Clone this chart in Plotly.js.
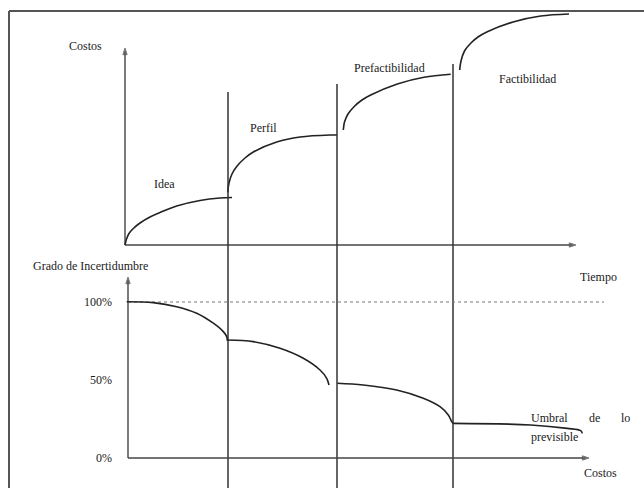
<!DOCTYPE html>
<html>
<head>
<meta charset="utf-8">
<script src="https://cdn.plot.ly/plotly-3.0.1.min.js"></script>
<style>
  html, body { margin: 0; padding: 0; background: #fff; }
  #chart { width: 644px; height: 488px; }
</style>
</head>
<body>
<div id="chart"></div>
<script>
// Etapas del proyecto (tiempo) y curvas de costos / incertidumbre
const stages = ['Idea', 'Perfil', 'Prefactibilidad', 'Factibilidad'];

// Costos por etapa (tiempo, costo)
const ideaT = [0, 1.5, 4, 8.3, 15, 25, 35, 51.7, 75, 95, 107];
const ideaC = [0, 6, 11.5, 16.5, 22, 28, 32.5, 39, 44.5, 47, 47.5];
const perfilT = [102.7, 104, 107, 111.7, 120, 128.3, 151.7, 175, 205, 212];
const perfilC = [52.7, 62, 71, 78.5, 87, 93, 103, 108, 110, 110];
const prefT = [218.3, 219.5, 223, 229, 237, 245.7, 272.3, 299, 325.7];
const prefC = [115, 123, 131, 138.3, 145, 150, 161, 167.7, 170.7];
const factT = [334.7, 336, 339.5, 345.7, 353, 362.3, 389, 415.7, 444];
const factC = [175, 184, 194, 201.7, 208, 213.3, 223.3, 229, 231];

// Grado de incertidumbre (%) por etapa
const inc1T = [1.7, 28.3, 51.7, 71.7, 88.3, 98.3, 101.7, 102.3];
const inc1U = [100.2, 99.6, 97.0, 92.8, 86.4, 81.0, 77.8, 75.2];
const inc2T = [102.3, 128.3, 155, 178.3, 195, 201.7, 204];
const inc2U = [75.6, 74.6, 70.3, 63.9, 56.4, 51.1, 46.8];
const inc3T = [212.3, 238.3, 271.7, 298.3, 315, 323.3, 326.7, 328.3];
const inc3U = [47.9, 46.8, 43.6, 38.3, 32.9, 27.6, 23.3, 22.2];
const inc4T = [328.3, 405.7, 442.3, 455.7, 457.3];
const inc4U = [22.2, 21.2, 19.0, 17.5, 15.8];

// Limites entre etapas (tiempo) y altura superior de cada linea (costo)
const boundT = [103, 212, 328];
const boundTop = [153, 161, 181];

// Ticks del eje de incertidumbre
const uncTicks = [0, 50, 100];
const uncTickText = ['0%', '50%', '100%'];

const ink = '#222';
const font = { family: "'Liberation Serif', serif", size: 12, color: '#1a1a1a' };

function curve(x, y, yaxis) {
    return { x: x, y: y, yaxis: yaxis, type: 'scatter', mode: 'lines',
             line: { color: ink, width: 1.6, shape: 'spline', smoothing: 1 },
             hoverinfo: 'skip', showlegend: false };
}
function arrowLine(x, y, yaxis) {
    return { x: x, y: y, yaxis: yaxis, type: 'scatter', mode: 'lines+markers',
             line: { color: '#444', width: 1.4 },
             marker: { symbol: 'arrow', angleref: 'previous', size: [0, 7], color: '#222' },
             hoverinfo: 'skip', showlegend: false };
}

const traces = [
    // ejes de costos y tiempo
    arrowLine([0, 0], [0, 197], 'y'),
    arrowLine([0, 451], [0, 0], 'y'),
    // ejes de incertidumbre
    arrowLine([3, 3], [0, 116], 'y2'),
    arrowLine([3, 464], [0, 0], 'y2'),
    // linea punteada 100%
    { x: [3, 479], y: [100, 100], yaxis: 'y2', type: 'scatter', mode: 'lines',
      line: { color: '#777', width: 1, dash: 'dot' }, hoverinfo: 'skip', showlegend: false },
    curve(ideaT, ideaC, 'y'),
    curve(perfilT, perfilC, 'y'),
    curve(prefT, prefC, 'y'),
    curve(factT, factC, 'y'),
    curve(inc1T, inc1U, 'y2'),
    curve(inc2T, inc2U, 'y2'),
    curve(inc3T, inc3U, 'y2'),
    curve(inc4T, inc4U, 'y2')
];

// lineas verticales entre etapas
boundT.forEach((t, i) => {
    traces.push({ x: [t, t], y: [boundTop[i], -260], yaxis: 'y', type: 'scatter', mode: 'lines',
                  line: { color: '#333', width: 1.5 }, hoverinfo: 'skip', showlegend: false });
});

function label(text, x, y, yref, xanchor) {
    return { text: text, x: x, y: y, xref: 'x', yref: yref, showarrow: false,
             xanchor: xanchor || 'center', yanchor: 'middle', font: font };
}

const stageLabelT = [39, 138, 264, 402];
const stageLabelC = [61, 117, 177, 166];

const annotations = stages.map((s, i) => label(s, stageLabelT[i], stageLabelC[i], 'y'));
annotations.push(
    label('Costos', -40, 199, 'y'),
    label('Tiempo', 473, -32, 'y'),
    label('Grado de Incertidumbre', -35, 123, 'y2'),
    label('Costos', 475, -9.6, 'y2'),
    label('Umbral', 404, 25.6, 'y2', 'left'),
    label('de', 469, 25.6, 'y2'),
    label('lo', 507, 25.6, 'y2', 'right'),
    label('previsible', 404, 13.5, 'y2', 'left')
);

const layout = {
    width: 644,
    height: 488,
    margin: { t: 0, b: 0, l: 0, r: 0 },
    paper_bgcolor: '#fff',
    plot_bgcolor: '#fff',
    showlegend: false,
    xaxis: { range: [-125, 519], visible: false, fixedrange: true },
    yaxis: { range: [-243, 245], visible: false, fixedrange: true },
    yaxis2: {
        range: [-19.23, 293.59],
        overlaying: 'y',
        anchor: 'free',
        position: 128 / 644,
        side: 'left',
        showgrid: false,
        zeroline: false,
        showline: false,
        ticks: '',
        tickvals: uncTicks,
        ticktext: uncTickText,
        ticklabelstandoff: 16,
        tickfont: font,
        fixedrange: true
    },
    annotations: annotations,
    shapes: [
        { type: 'line', xref: 'paper', yref: 'paper', x0: 9 / 644, x1: 1, y0: 1 - 11 / 488, y1: 1 - 11 / 488,
          line: { color: '#555', width: 2 } },
        { type: 'line', xref: 'paper', yref: 'paper', x0: 9 / 644, x1: 9 / 644, y0: 0, y1: 1 - 11 / 488,
          line: { color: '#555', width: 2 } }
    ]
};

Plotly.newPlot('chart', traces, layout, { displayModeBar: false, staticPlot: true });
</script>
</body>
</html>
